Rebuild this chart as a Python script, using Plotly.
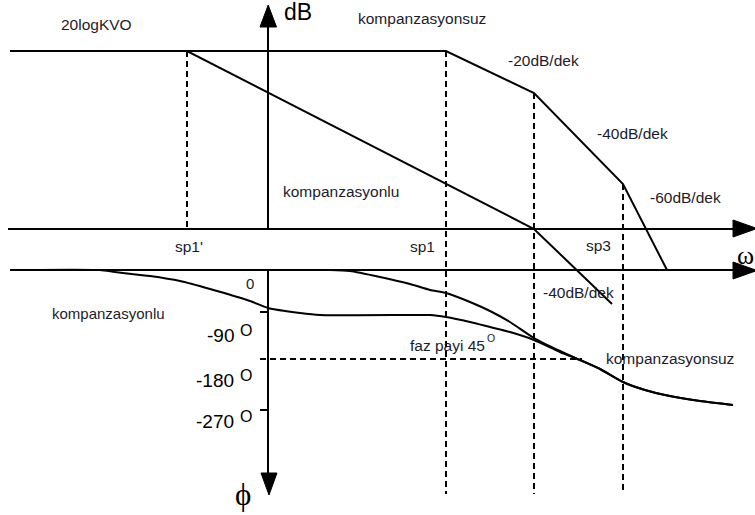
import plotly.graph_objects as go

# ---- data (diagram coordinates, x to the right, y downward) ----
mag_axis_y = 229
omega_axis_y = 270
axis_x = 268

mag_uncomp_x = [10, 446, 534, 623, 667]
mag_uncomp_y = [51, 51, 93, 184, 270]
mag_comp_x = [10, 187, 534, 612]
mag_comp_y = [51, 51, 229, 304]

phase_comp_x = [10, 100, 115, 150, 180, 210, 250, 268, 300, 320, 410, 430, 446, 470, 490, 510, 534, 560, 580, 600, 623, 645, 665, 700, 733]
phase_comp_y = [270, 270, 272, 276, 281, 289, 301, 308, 313, 315, 315, 315, 317, 322, 327, 332, 340, 352, 360, 369, 382, 390, 395, 401, 405]
phase_uncomp_x = [268, 330, 350, 380, 410, 430, 446, 470, 490, 510, 534, 560, 580, 600, 623, 645, 665, 700, 733]
phase_uncomp_y = [270, 270, 271, 277, 284, 290, 293, 302, 311, 322, 338, 351, 360, 369, 382, 390, 395, 401, 405]

# dashed guide lines: (x0, y0, x1, y1)
guide_x0 = [187, 446, 534, 623, 260]
guide_y0 = [51, 51, 93, 184, 359]
guide_x1 = [187, 446, 534, 623, 582]
guide_y1 = [229, 494, 494, 494, 359]

label_text = ["20logKVO", "kompanzasyonsuz", "-20dB/dek", "-40dB/dek", "-60dB/dek",
              "kompanzasyonlu", "sp1'", "sp1", "sp3", "-40dB/dek", "0",
              "kompanzasyonlu", "faz payi 45", "kompanzasyonsuz"]
label_x = [96, 422, 543, 632, 685, 341, 189, 422, 598, 578, 250, 108, 447, 670]
label_y = [24, 18, 60, 133, 197, 191, 246, 246, 245, 292, 283, 313, 345, 358]
label_size = [15.5, 15.5, 15.5, 15.5, 15.5, 15.5, 15.5, 15.5, 15.5, 15.5, 15, 15, 15.5, 15.5]

deg_text = ["-90", "-180", "-270"]
deg_x = [236, 236, 236]
deg_y = [335, 380, 421]

fig = go.Figure()
line = dict(color="black", width=2)
dash = dict(color="black", width=2, dash="6px,4px")

# axes lines
fig.add_trace(go.Scatter(x=[8, 735], y=[mag_axis_y, mag_axis_y], mode="lines", line=line))
fig.add_trace(go.Scatter(x=[10, 735], y=[omega_axis_y, omega_axis_y], mode="lines", line=line))
fig.add_trace(go.Scatter(x=[axis_x, axis_x], y=[mag_axis_y, 20], mode="lines", line=line))
fig.add_trace(go.Scatter(x=[axis_x, axis_x], y=[omega_axis_y, 480], mode="lines", line=line))

# arrowheads
def tri(xs, ys):
    fig.add_trace(go.Scatter(x=xs, y=ys, mode="lines", fill="toself", fillcolor="black",
                             line=dict(color="black", width=1)))

tri([260, 276.5, 268.2, 260], [27, 27, 5, 27])
tri([261, 277, 269, 261], [473, 473, 495, 473])
tri([733, 733, 757, 733], [220, 237, 228.5, 220])
tri([733, 733, 757, 733], [262, 279, 270.5, 262])

# magnitude
fig.add_trace(go.Scatter(x=mag_uncomp_x, y=mag_uncomp_y, mode="lines", line=line))
fig.add_trace(go.Scatter(x=mag_comp_x, y=mag_comp_y, mode="lines", line=line))

# phase
fig.add_trace(go.Scatter(x=phase_comp_x, y=phase_comp_y, mode="lines",
                         line=dict(color="black", width=2, shape="spline", smoothing=0.6)))
fig.add_trace(go.Scatter(x=phase_uncomp_x, y=phase_uncomp_y, mode="lines",
                         line=dict(color="black", width=2, shape="spline", smoothing=0.6)))

# guides
for x0, y0, x1, y1 in zip(guide_x0, guide_y0, guide_x1, guide_y1):
    fig.add_trace(go.Scatter(x=[x0, x1], y=[y0, y1], mode="lines", line=dash))

# ticks on phase axis
for ty in [312, 410]:
    fig.add_trace(go.Scatter(x=[260, 268], y=[ty, ty], mode="lines", line=line))

fam = "Liberation Sans, Arial, sans-serif"
tc = "#1c1c2c"
for t, x, y, s in zip(label_text, label_x, label_y, label_size):
    fig.add_annotation(x=x, y=y, text=t, showarrow=False, xanchor="center", yanchor="middle",
                       font=dict(family=fam, size=s, color=tc))
for t, x, y in zip(deg_text, deg_x, deg_y):
    fig.add_annotation(x=x, y=y, text=t, showarrow=False, xanchor="right", yanchor="middle",
                       font=dict(family=fam, size=19, color="black"))
    fig.add_annotation(x=246, y=y - 5, text="O", showarrow=False, xanchor="center", yanchor="middle",
                       font=dict(family=fam, size=16, color="black"))
fig.add_annotation(x=491, y=338, text="O", showarrow=False, xanchor="center", yanchor="middle",
                   font=dict(family=fam, size=10.5, color=tc))
fig.add_annotation(x=298, y=12, text="dB", showarrow=False, xanchor="center", yanchor="middle",
                   font=dict(family=fam, size=23, color="black"))
fig.add_annotation(x=243, y=494, text="ϕ", showarrow=False, xanchor="center", yanchor="middle",
                   font=dict(family="Liberation Serif, Times New Roman, serif", size=31, color="black"))
fig.add_annotation(x=745, y=255, text="ω", showarrow=False, xanchor="center", yanchor="middle",
                   font=dict(family="Liberation Serif, Times New Roman, serif", size=26, color="black"))

fig.update_layout(width=755, height=515, autosize=False, margin=dict(l=0, r=0, t=0, b=0),
                  paper_bgcolor="white", plot_bgcolor="white", showlegend=False)
fig.update_xaxes(range=[0, 755], visible=False, fixedrange=True)
fig.update_yaxes(range=[515, 0], visible=False, fixedrange=True)
fig.write_html("out.html", config={"displayModeBar": False},
               post_script="document.body.style.margin='0px';document.body.style.overflow='hidden';")
